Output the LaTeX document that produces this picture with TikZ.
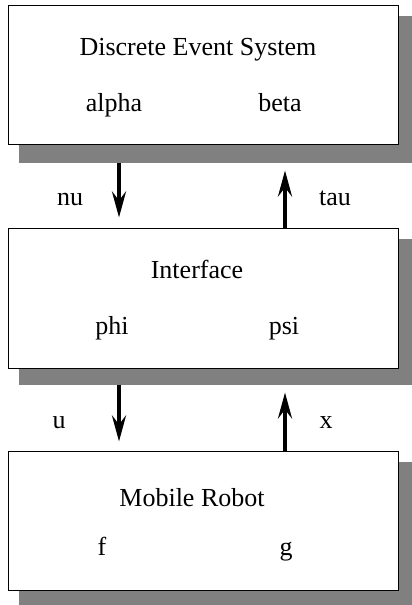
\documentclass[tikz,border=0pt]{standalone}
\usepackage{fontspec}
\setmainfont{Liberation Serif}
\usetikzlibrary{arrows.meta,backgrounds}
\tikzset{
  blockbox/.style={draw=black, line width=1pt, fill=white, inner sep=0pt, minimum width=390pt},
  shadowbox/.style={fill=gray},
  sig/.style={line width=4pt, -{Stealth[length=26pt,width=14pt,inset=9pt]}},
  lbl/.style={anchor=base, inner sep=0pt, font=\fontsize{26}{30}\selectfont},
}
\begin{document}
\begin{tikzpicture}[x=1pt,y=-1pt]
		\useasboundingbox (0,0) rectangle (412,605);
		\def\lx{119};
		\def\rx{285};
		\coordinate (lcol) at (\lx,0);
		\coordinate (rcol) at (\rx,0);
		% the three blocks
		\node[blockbox, minimum height=139pt] (des) at (203,74.5) {};
		\node[blockbox, minimum height=140pt] (iface) at (203,298) {};
		\node[blockbox, minimum height=139pt] (robot) at (203,520.5) {};
		\begin{scope}[on background layer]
		\fill[shadowbox] ([shift={(11,11)}]des.north west) rectangle ([shift={(16,18)}]des.south east);
		\fill[shadowbox] ([shift={(11,11)}]iface.north west) rectangle ([shift={(16,16)}]iface.south east);
		\fill[shadowbox] ([shift={(11,11)}]robot.north west) rectangle ([shift={(16,17)}]robot.south east);
		\end{scope}
		% texts
		\node[lbl] (destitle) at (198,55.7) {Discrete Event System};
		\node[lbl] (alpha) at (114,111) {alpha};
		\node[lbl] (beta) at (280,111) {beta};
		\node[lbl] (iftitle) at (197,278) {Interface};
		\node[lbl] (phi) at (112,334) {phi};
		\node[lbl] (psi) at (284,334) {psi};
		\node[lbl] (mrtitle) at (192,506) {Mobile Robot};
		\node[lbl] (f) at (102,555) {f};
		\node[lbl] (g) at (286,555) {g};
		\node[lbl] (nu) at (70,205) {nu};
		\node[lbl] (tau) at (335,205) {tau};
		\node[lbl] (u) at (59,428) {u};
		\node[lbl] (x) at (326,428) {x};
		% signals
		\path (des.south -| lcol) ++(0,18) coordinate (nutail)
		      (iface.north -| lcol) ++(0,-10) coordinate (nutip)
		      (iface.north -| rcol) coordinate (tautail)
		      (des.south -| rcol) ++(0,26) coordinate (tautip)
		      (iface.south -| lcol) ++(0,16) coordinate (utail)
		      (robot.north -| lcol) ++(0,-9) coordinate (utip)
		      (robot.north -| rcol) coordinate (xtail)
		      (iface.south -| rcol) ++(0,24) coordinate (xtip);
		\draw[sig] (nutail) -- (nutip);
		\draw[sig] (tautail) -- (tautip);
		\draw[sig] (utail) -- (utip);
		\draw[sig] (xtail) -- (xtip);
		\end{tikzpicture}
\end{document}
